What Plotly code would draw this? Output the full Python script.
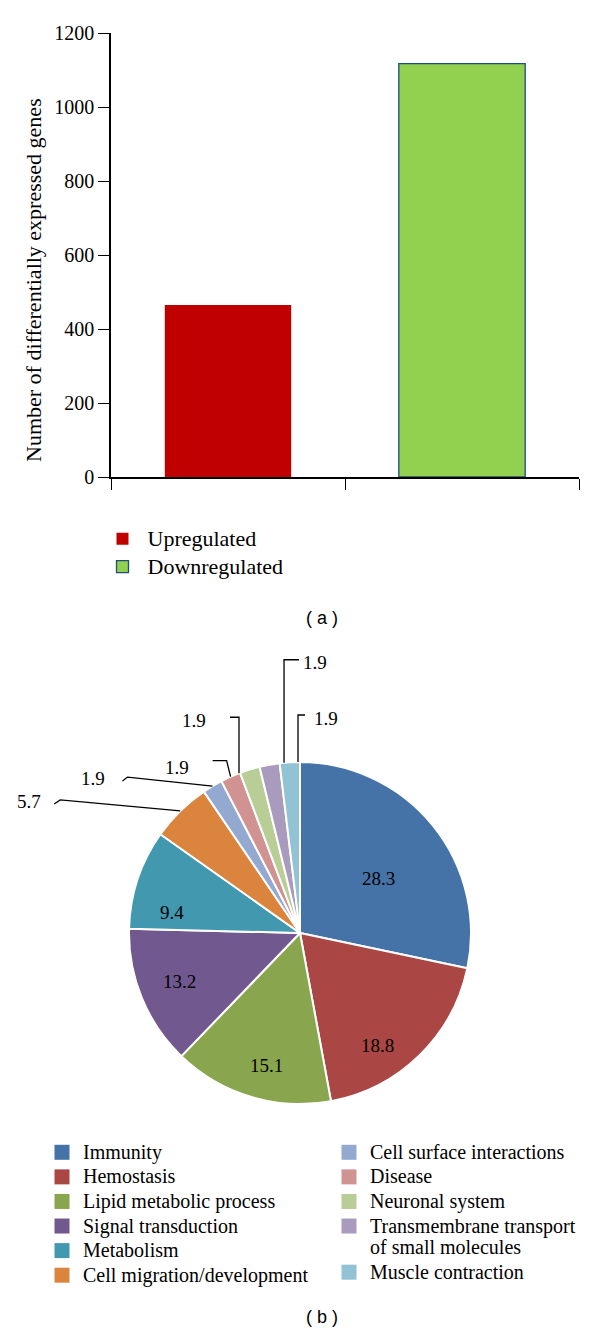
import math
import plotly.graph_objects as go

W, H = 600, 1339

# ---------------- data ----------------
bar_categories = ["Upregulated", "Downregulated"]
bar_values = [465, 1117]
bar_colors = ["#C00000", "#92D050"]
bar_edge_colors = ["#C00000", "#1F4E79"]
y_tick_values = [0, 200, 400, 600, 800, 1000, 1200]
y_title = "Number of differentially expressed genes"

pie_labels = [
    "Immunity", "Hemostasis", "Lipid metabolic process", "Signal transduction",
    "Metabolism", "Cell migration/development", "Cell surface interactions",
    "Disease", "Neuronal system", "Transmembrane transport of small molecules",
    "Muscle contraction",
]
pie_legend_lines = [
    ["Immunity"], ["Hemostasis"], ["Lipid metabolic process"], ["Signal transduction"],
    ["Metabolism"], ["Cell migration/development"], ["Cell surface interactions"],
    ["Disease"], ["Neuronal system"], ["Transmembrane transport", "of small molecules"],
    ["Muscle contraction"],
]
pie_values = [28.3, 18.8, 15.1, 13.2, 9.4, 5.7, 1.9, 1.9, 1.9, 1.9, 1.9]
pie_colors = ["#4572A7", "#AA4643", "#89A54E", "#71588F", "#4198AF", "#DB843D",
              "#93A9CF", "#D19392", "#B9CD96", "#A99BBD", "#92C3D4"]

# ---------------- style ----------------
SERIF = "Liberation Serif, Times New Roman, serif"
SANS = "Liberation Sans, Arial, sans-serif"


def px_x(p):
    return p / W


def px_y(p):
    return 1 - p / H


def big(text, size):
    return f'<span style="font-size:{size}px">{text}</span>'


# pie geometry (pixels)
PIE_CX, PIE_CY, PIE_R = 300, 933, 171

# inside labels: angle nudge (deg) and radius fraction
inside_style = {
    0: dict(nudge=4.3, rf=0.56),
    1: dict(nudge=9.8, rf=0.80),
    2: dict(nudge=-2.4, rf=0.80),
    3: dict(nudge=0.3, rf=0.76),
    4: dict(nudge=-9.1, rf=0.76),
}
# leader-line style for the small slices: angle nudge, path offsets, label offset, side
leader_style = {
    5: dict(nudge=0.0, path=[(-120, -11), (-126, -7)], label=(-137, -9), side="right"),
    6: dict(nudge=0.0, path=[(-85, -9), (-90, -5)], label=(-105, -8), side="right"),
    7: dict(nudge=0.0, path=[(-4, -16), (-18, -16)], label=(-40, -9), side="right"),
    8: dict(nudge=-3.8, path=[(0, -56), (-9, -56)], label=(-31, -53), side="right"),
    9: dict(nudge=4.9, path=[(0, -103), (15, -103)], label=(17, -100), side="left"),
    10: dict(nudge=2.75, path=[(0, -47), (7, -47)], label=(14, -44), side="left"),
}
LABEL_FONT = dict(family=SERIF, size=19, color="black")

fig = go.Figure()

# ---------------- (a) bar chart ----------------
for cat, val, col, edge in zip(bar_categories, bar_values, bar_colors, bar_edge_colors):
    fig.add_trace(go.Bar(
        x=[cat], y=[val], name=big(cat, 22), width=0.54,
        marker=dict(color=col, line=dict(color=edge, width=1.3 if edge != col else 0)),
        xaxis="x", yaxis="y", legend="legend", hoverinfo="y",
    ))

# ---------------- (b) pie chart ----------------
total = sum(pie_values)
fig.add_trace(go.Pie(
    labels=pie_labels, values=pie_values, sort=False, direction="clockwise", rotation=0,
    marker=dict(colors=pie_colors, line=dict(color="white", width=2)),
    textinfo="none",
    domain=dict(x=[px_x(PIE_CX - PIE_R), px_x(PIE_CX + PIE_R)],
                y=[px_y(PIE_CY + PIE_R), px_y(PIE_CY - PIE_R)]),
    showlegend=False,
))

# legend entries for the pie categories (two columns)
for i, (lines, col) in enumerate(zip(pie_legend_lines, pie_colors)):
    fig.add_trace(go.Scatter(
        x=[None], y=[None], mode="markers",
        name="<br>".join(big(t, 20) for t in lines),
        marker=dict(symbol="square", size=15, color=col),
        xaxis="x2", yaxis="y2",
        legend="legend2" if i < 6 else "legend3",
        showlegend=True,
    ))

shapes = []
annotations = []
cum = 0.0
for i, v in enumerate(pie_values):
    start = cum
    cum += v
    mid_deg = (start + v / 2) / total * 360
    if i in inside_style:
        st = inside_style[i]
        th = math.radians(mid_deg + st["nudge"])
        r = PIE_R * st["rf"]
        annotations.append(dict(
            x=px_x(PIE_CX + r * math.sin(th)), y=px_y(PIE_CY - r * math.cos(th)),
            xref="paper", yref="paper", text=f"{v}", showarrow=False,
            xanchor="center", yanchor="middle", font=LABEL_FONT,
        ))
        continue
    st = leader_style[i]
    th = math.radians(mid_deg + st["nudge"])
    ax = PIE_CX + PIE_R * math.sin(th)
    ay = PIE_CY - PIE_R * math.cos(th)
    pts = [(ax, ay)] + [(ax + dx, ay + dy) for dx, dy in st["path"]]
    path = "M " + " L ".join(f"{px_x(x):.5f},{px_y(y):.5f}" for x, y in pts)
    shapes.append(dict(type="path", path=path, xref="paper", yref="paper",
                       line=dict(color="black", width=1.3)))
    lx, ly = ax + st["label"][0], ay + st["label"][1]
    annotations.append(dict(
        x=px_x(lx), y=px_y(ly), xref="paper", yref="paper", text=f"{v}",
        showarrow=False, xanchor=st["side"], yanchor="middle", font=LABEL_FONT,
    ))

# y-axis title (placed as in the original figure, slightly below the axis centre)
annotations.append(dict(x=px_x(33), y=px_y(280), xref="paper", yref="paper", text=y_title,
                        textangle=-90, showarrow=False, xanchor="center", yanchor="middle",
                        font=dict(family=SERIF, size=22, color="black")))

# panel captions
for cap, ypx in (("( a )", 618), ("( b )", 1317)):
    annotations.append(dict(x=px_x(322), y=px_y(ypx), xref="paper", yref="paper", text=cap,
                            showarrow=False, xanchor="center", yanchor="middle",
                            font=dict(family=SANS, size=18, color="black")))

fig.update_layout(
    width=W, height=H,
    margin=dict(l=0, r=0, t=0, b=0),
    paper_bgcolor="white", plot_bgcolor="white",
    barmode="overlay",
    font=dict(family=SERIF, color="black"),
    xaxis=dict(
        domain=[px_x(111), px_x(579)], anchor="y",
        type="category", categoryorder="array", categoryarray=bar_categories,
        tickson="boundaries", ticks="outside", ticklen=11, tickwidth=1.3, tickcolor="black",
        showticklabels=False, showline=True, linecolor="black", linewidth=1.5,
        showgrid=False, zeroline=False, automargin=False, fixedrange=True,
    ),
    yaxis=dict(
        domain=[px_y(477), px_y(33)], anchor="x", range=[0, 1200],
        tickvals=y_tick_values, ticks="outside", ticklen=11, tickwidth=1.3, tickcolor="black",
        tickfont=dict(family=SERIF, size=20, color="black"),
        showline=True, linecolor="black", linewidth=1.5, showgrid=False, zeroline=False,
        automargin=False, fixedrange=True,
    ),
    xaxis2=dict(domain=[0, 0.01], anchor="y2", visible=False),
    yaxis2=dict(domain=[0, 0.01], anchor="x2", visible=False),
    legend=dict(
        x=px_x(97.5), y=px_y(520), xanchor="left", yanchor="top",
        font=dict(family=SERIF, size=19, color="black"),
        bgcolor="rgba(0,0,0,0)", traceorder="normal", itemwidth=40,
    ),
    legend2=dict(
        x=px_x(41), y=px_y(1135), xanchor="left", yanchor="top",
        font=dict(family=SERIF, size=16.6, color="black"),
        bgcolor="rgba(0,0,0,0)", traceorder="normal", itemwidth=32,
    ),
    legend3=dict(
        x=px_x(328), y=px_y(1135), xanchor="left", yanchor="top",
        font=dict(family=SERIF, size=16.6, color="black"),
        bgcolor="rgba(0,0,0,0)", traceorder="normal", valign="top", itemwidth=32,
    ),
    shapes=shapes,
    annotations=annotations,
    showlegend=True,
)

fig.write_html("out.html", config={"displayModeBar": False},
               post_script="document.body.style.margin='0px';")
